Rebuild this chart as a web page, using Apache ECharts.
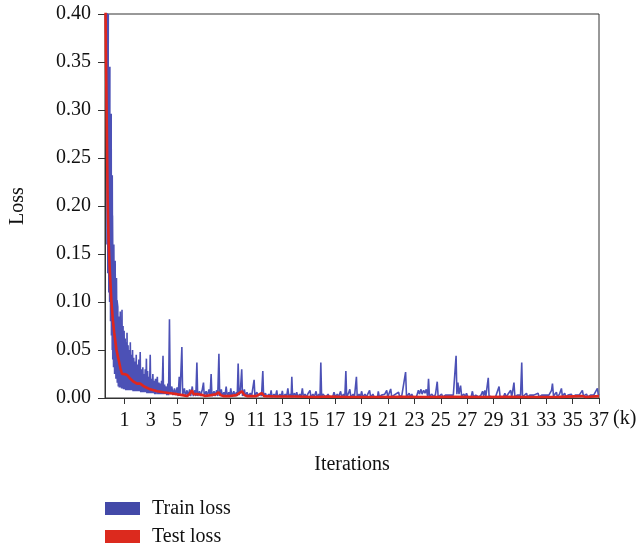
<!DOCTYPE html>
<html>
<head>
<meta charset="utf-8">
<script src="https://cdn.jsdelivr.net/npm/echarts@6/dist/echarts.min.js"></script>
<style>html,body{margin:0;padding:0;background:#fff;}#c{width:640px;height:546px;}</style>
</head>
<body>
<div id="c"></div>
<script>
// x in thousands of iterations (k), y = loss
var xTicks = [1,3,5,7,9,11,13,15,17,19,21,23,25,27,29,31,33,35,37];
var yTicks = [0,0.05,0.10,0.15,0.20,0.25,0.30,0.35,0.40];
var seriesNames = ['Train loss','Test loss'];

var trainLoss = [
[-0.45,0.45],[-0.42,0.38],[-0.38,0.45],[-0.36,0.30],[-0.30,0.42],[-0.32,0.16],[-0.22,0.40],[-0.26,0.13],[-0.20,0.345],[-0.18,0.11],[-0.10,0.345],[-0.12,0.10],[-0.07,0.296],[-0.05,0.08],[0.0,0.296],[0.02,0.065],[0.01,0.232],[0.08,0.05],[0.08,0.232],[0.12,0.04],[0.10,0.19],[0.18,0.032],[0.20,0.16],[0.26,0.025],[0.30,0.143],[0.36,0.02],[0.40,0.125],[0.46,0.016],[0.44,0.102],
[0.50,0.095],[0.54,0.012],[0.58,0.085],[0.62,0.011],[0.69,0.09],[0.72,0.011],[0.76,0.078],[0.79,0.01],[0.82,0.092],[0.86,0.01],[0.9,0.075],[0.94,0.009],[0.98,0.07],[1.02,0.009],[1.06,0.062],[1.1,0.008],[1.14,0.058],[1.17,0.008],[1.2,0.068],[1.24,0.008],[1.28,0.055],[1.32,0.008],[1.36,0.05],[1.4,0.008],[1.45,0.058],[1.49,0.008],[1.53,0.045],[1.57,0.008],[1.62,0.05],[1.66,0.007],[1.71,0.042],[1.75,0.007],[1.8,0.038],[1.84,0.007],[1.9,0.045],[1.94,0.007],[2.0,0.035],[2.04,0.007],[2.1,0.04],[2.14,0.007],[2.2,0.048],[2.24,0.006],[2.3,0.03],[2.34,0.006],[2.4,0.032],[2.44,0.006],[2.5,0.025],[2.54,0.006],[2.58,0.03],[2.62,0.006],[2.67,0.041],[2.71,0.005],[2.76,0.028],[2.8,0.005],[2.86,0.022],[2.9,0.005],[2.96,0.045],[3.0,0.005],[3.06,0.02],[3.1,0.005],[3.16,0.025],[3.2,0.005],[3.26,0.018],[3.3,0.004],[3.36,0.02],[3.4,0.004],[3.5,0.022],[3.54,0.004],[3.62,0.016],[3.66,0.004],[3.72,0.015],[3.76,0.004],[3.82,0.018],[3.86,0.004],[3.93,0.044],[3.97,0.004],[4.05,0.014],[4.1,0.004],[4.18,0.012],[4.22,0.003],[4.3,0.015],[4.35,0.003],
[4.42,0.082],[4.48,0.004],[4.6,0.012],[4.68,0.003],[4.8,0.01],[4.88,0.003],[5.0,0.011],[5.08,0.002],[5.16,0.022],[5.22,0.003],[5.36,0.053],[5.42,0.003],[5.55,0.01],[5.63,0.002],[5.75,0.008],[5.83,0.002],[5.95,0.009],[6.03,0.002],[6.15,0.012],[6.23,0.002],[6.35,0.008],[6.42,0.002],[6.5,0.037],[6.56,0.002],[6.7,0.007],[6.78,0.002],[6.9,0.008],[7.0,0.016],[7.06,0.002],[7.2,0.007],[7.28,0.002],[7.42,0.009],[7.5,0.002],[7.58,0.025],[7.64,0.002],[7.8,0.007],[7.88,0.002],[8.0,0.008],[8.08,0.002],[8.17,0.046],[8.23,0.002],[8.35,0.009],[8.43,0.002],[8.55,0.006],[8.63,0.002],[8.72,0.012],[8.8,0.002],[8.92,0.006],[9.0,0.002],[9.07,0.01],[9.15,0.002],[9.3,0.007],[9.38,0.002],[9.5,0.006],[9.56,0.002],[9.63,0.036],[9.7,0.003],[9.8,0.008],[9.9,0.030],[9.96,0.002],[10.1,0.009],[10.18,0.002],[10.3,0.006],[10.4,0.002],[10.55,0.005],[10.65,0.002],[10.84,0.019],[10.9,0.002],[11.05,0.006],[11.15,0.002],[11.3,0.005],[11.4,0.002],[11.5,0.028],[11.56,0.002],[11.7,0.005],[11.8,0.001],[11.95,0.004],[12.05,0.001],[12.13,0.008],[12.2,0.001],[12.35,0.004],[12.45,0.001],[12.56,0.008],[12.62,0.001],[12.8,0.004],[12.9,0.001],[12.98,0.0075],[13.05,0.001],[13.2,0.004],[13.3,0.001],[13.4,0.010],[13.48,0.001],[13.6,0.004],[13.65,0.001],[13.7,0.022],[13.76,0.001],[13.9,0.005],[14.0,0.001],[14.07,0.006],[14.15,0.001],[14.3,0.004],[14.4,0.001],[14.5,0.010],[14.58,0.001],[14.7,0.004],[14.8,0.001],[14.95,0.005],[15.08,0.008],[15.15,0.001],[15.3,0.004],[15.4,0.001],[15.54,0.007],[15.62,0.001],[15.75,0.004],[15.84,0.001],[15.9,0.037],[15.96,0.001],[16.05,0.004],[16.2,0.006],[16.28,0.001],[16.45,0.004],[16.55,0.001],[16.7,0.003],[16.8,0.001],[16.9,0.006],[17.0,0.001],[17.15,0.004],[17.25,0.001],[17.4,0.007],[17.48,0.001],[17.62,0.004],[17.72,0.001],[17.8,0.028],[17.86,0.001],[18.0,0.005],[18.1,0.009],[18.18,0.001],[18.35,0.004],[18.45,0.001],[18.6,0.022],[18.66,0.001],[18.8,0.004],[18.9,0.001],[19.0,0.007],[19.08,0.001],[19.25,0.004],[19.35,0.001],[19.6,0.008],[19.68,0.001],[19.85,0.004],[19.95,0.001],[20.1,0.003],[20.2,0.001],[20.26,0.007],[20.34,0.001],[20.5,0.003],[20.6,0.001],[20.75,0.004],[20.9,0.008],[20.98,0.001],[21.2,0.0094],[21.28,0.001],[21.45,0.003],[21.55,0.001],[21.8,0.006],[21.88,0.001],[22.05,0.003],[22.15,0.001],[22.33,0.027],[22.4,0.001],[22.6,0.005],[22.7,0.001],[22.8,0.004],[22.9,0.001],[23.05,0.003],[23.15,0.001],[23.3,0.008],[23.38,0.004],[23.5,0.009],[23.58,0.004],[23.7,0.008],[23.8,0.005],[23.9,0.009],[24.0,0.002],[24.07,0.020],[24.14,0.001],[24.3,0.004],[24.4,0.006],[24.5,0.001],[24.6,0.004],[24.73,0.017],[24.8,0.001],[24.95,0.003],[25.06,0.004],[25.15,0.001],[25.35,0.003],[25.45,0.001],[25.65,0.003],[25.75,0.001],[25.95,0.003],[26.05,0.001],[26.16,0.044],[26.22,0.004],[26.3,0.016],[26.38,0.004],[26.5,0.013],[26.58,0.002],[26.75,0.004],[26.85,0.001],[26.95,0.005],[27.05,0.001],[27.2,0.003],[27.3,0.001],[27.4,0.007],[27.48,0.001],[27.65,0.003],[27.8,0.005],[27.88,0.001],[28.05,0.003],[28.17,0.007],[28.25,0.002],[28.34,0.008],[28.42,0.002],[28.6,0.021],[28.66,0.002],[28.8,0.004],[28.9,0.001],[29.05,0.003],[29.15,0.001],[29.3,0.003],[29.42,0.012],[29.5,0.001],[29.65,0.003],[29.75,0.001],[29.86,0.005],[29.95,0.001],[30.1,0.003],[30.3,0.008],[30.38,0.001],[30.55,0.016],[30.62,0.001],[30.8,0.003],[30.9,0.001],[31.05,0.003],[31.14,0.037],[31.2,0.001],[31.35,0.003],[31.5,0.005],[31.58,0.001],[31.75,0.003],[31.85,0.001],[32.05,0.003],[32.15,0.001],[32.38,0.005],[32.46,0.001],[32.65,0.003],[32.75,0.001],[32.95,0.003],[33.05,0.001],[33.2,0.003],[33.4,0.008],[33.47,0.015],[33.55,0.002],[33.77,0.006],[33.85,0.001],[34.0,0.004],[34.15,0.010],[34.22,0.002],[34.4,0.005],[34.48,0.001],[34.65,0.003],[34.75,0.001],[34.9,0.004],[35.0,0.001],[35.2,0.003],[35.3,0.001],[35.5,0.003],[35.6,0.001],[35.74,0.008],[35.82,0.002],[36.05,0.004],[36.15,0.001],[36.35,0.003],[36.45,0.001],[36.6,0.003],[36.7,0.001],[36.88,0.010],[36.95,0.003],[37.0,0.004]
];

var testLoss = [
[-0.46,0.46],[-0.40,0.36],[-0.33,0.28],[-0.27,0.206],[-0.2,0.165],[-0.12,0.137],[0.01,0.102],[0.12,0.082],[0.23,0.068],[0.4,0.05],[0.56,0.040],[0.7,0.031],[0.82,0.025],[1.0,0.025],[1.2,0.024],[1.45,0.02],[1.7,0.017],[1.95,0.015],[2.2,0.015],[2.5,0.012],[2.96,0.009],[3.5,0.007],[3.97,0.006],[4.5,0.005],[4.98,0.004],[5.4,0.003],[5.74,0.002],[5.95,0.004],[6.12,0.008],[6.25,0.004],[6.37,0.003],[6.6,0.004],[6.75,0.004],[6.95,0.003],[7.13,0.002],[7.6,0.003],[7.95,0.004],[8.14,0.006],[8.3,0.003],[8.5,0.002],[9.0,0.002],[9.5,0.003],[9.91,0.007],[10.1,0.003],[10.3,0.002],[11.0,0.002],[11.42,0.005],[11.6,0.002],[12.5,0.0015],[14,0.0015],[15.5,0.001],[16.5,0.0015],[18,0.001],[20,0.001],[22,0.0012],[24,0.001],[26,0.0012],[28,0.001],[30,0.0012],[32,0.001],[34,0.0012],[35.7,0.002],[36,0.001],[37,0.002]
];

var FONT = '"Liberation Serif","DejaVu Serif",serif';
var legendText = {fontFamily:FONT, fontSize:20, lineHeight:14, color:'#111', padding:[0,0,0,7]};
var chart = echarts.init(document.getElementById('c'), null, {renderer:'canvas'});
chart.setOption({
  animation: false,
  backgroundColor: '#ffffff',
  grid: {left:105, top:14, width:494, height:384, show:true, borderColor:'#333', borderWidth:1, backgroundColor:'transparent'},
  legend: [
    {left:105, top:498.5, padding:0, itemWidth:35, itemHeight:13, textStyle:legendText,
     data:[{name:seriesNames[0], icon:'rect', itemStyle:{color:'#4349a8'}}]},
    {left:105, top:526.5, padding:0, itemWidth:35, itemHeight:13, textStyle:legendText,
     data:[{name:seriesNames[1], icon:'rect', itemStyle:{color:'#dc2a1e'}}]}
  ],
  xAxis: {
    type:'value', min:-0.47, max:37,
    name:'Iterations', nameLocation:'middle', nameGap:57,
    nameTextStyle:{fontFamily:FONT, fontSize:20, color:'#111'},
    axisLine:{onZero:false, lineStyle:{color:'#333', width:1}},
    axisTick:{show:true, length:6, customValues:xTicks, lineStyle:{color:'#333'}},
    axisLabel:{customValues:xTicks, fontFamily:FONT, fontSize:20, color:'#111', margin:13},
    splitLine:{show:false}
  },
  yAxis: {
    type:'value', min:0, max:0.4, interval:0.05,
    name:'Loss', nameLocation:'middle', nameGap:77,
    nameTextStyle:{fontFamily:FONT, fontSize:20, color:'#111'},
    axisLine:{show:true, onZero:false, lineStyle:{color:'#333', width:1}},
    axisTick:{show:true, length:7, lineStyle:{color:'#333'}},
    axisLabel:{fontFamily:FONT, fontSize:20, color:'#111', margin:14, formatter:function(v){return v.toFixed(2);}},
    splitLine:{show:false}
  },
  graphic: [{type:'text', left:613, top:409, style:{text:'(k)', font:'20px "Liberation Serif", serif', fill:'#111'}}],
  series: [
    {name:seriesNames[0], type:'line', data:trainLoss, showSymbol:false, symbol:'none', clip:true,
     lineStyle:{color:'#4c51b6', width:1.6}, itemStyle:{color:'#4349a8'}, z:2},
    {name:seriesNames[1], type:'line', data:testLoss, showSymbol:false, symbol:'none', clip:true,
     lineStyle:{color:'#e0261e', width:2.6}, itemStyle:{color:'#dc2a1e'}, z:3}
  ]
});
</script>
</body>
</html>
